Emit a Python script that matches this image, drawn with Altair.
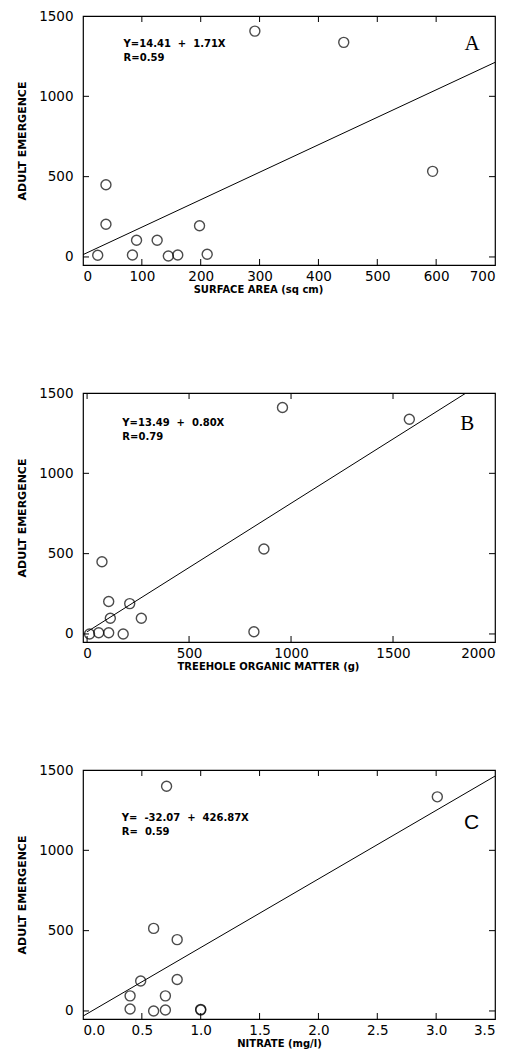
import altair as alt
import pandas as pd

# ---- data ----
A_x = [25, 39, 39, 84, 91, 126, 145, 161, 198, 211, 292, 443, 594]
A_y = [11, 450, 204, 12, 104, 104, 6, 12, 194, 17, 1406, 1336, 533]

B_x = [73, 106, 209, 114, 266, 12, 57, 106, 177, 818, 867, 958, 1580]
B_y = [450, 202, 189, 98, 98, 0, 8, 8, 0, 14, 529, 1410, 1337]

C_x = [0.71, 0.60, 0.80, 0.49, 0.80, 0.40, 0.70, 0.40, 0.60, 0.70, 1.00, 1.00, 3.01]
C_y = [1399, 514, 444, 187, 196, 94, 94, 12, 0, 6, 6, 10, 1333]

# regression lines (from printed equations)
A_fit_x = [0, 700]
A_fit_y = [14.41, 1211.41]
B_fit_x = [0, 1858]
B_fit_y = [13.49, 1500.0]
C_fit_x = [0, 3.5]
C_fit_y = [-32.07, 1462.0]

NB = "\u00a0"
A_eq = ["Y=14.41" + NB * 2 + "+" + NB * 2 + "1.71X", "R=0.59"]
B_eq = ["Y=13.49" + NB * 2 + "+" + NB * 2 + "0.80X", "R=0.79"]
C_eq = ["Y=" + NB * 2 + "-32.07" + NB * 2 + "+" + NB * 2 + "426.87X", "R=" + NB * 2 + "0.59"]

A_ticks = [100, 200, 300, 400, 500, 600]
A_labels = [0, 100, 200, 300, 400, 500, 600, 700]
B_ticks = [0, 500, 1000, 1500]
B_labels = [0, 500, 1000, 1500, 2000]
C_ticks = [0.5, 1.0, 1.5, 2.0, 2.5, 3.0]
C_labels = [0.0, 0.5, 1.0, 1.5, 2.0, 2.5, 3.0, 3.5]
Y_ticks = [0, 500, 1000]
Y_labels = [0, 500, 1000, 1500]

W = 412
H = 249
TK = 6
FONT = "DejaVu Sans"


def panel(xs, ys, xdom, xlabels, xfmt, xticks, xtitle, title_x,
          fx, fy, eq, eq_x, eq_y, letter, lx, ly, lfont):
    X = alt.X("x:Q",
              scale=alt.Scale(domain=xdom, nice=False, zero=False, padding=0),
              axis=alt.Axis(values=xlabels, format=xfmt, title=xtitle,
                            ticks=False, domain=False, grid=False,
                            labelFontSize=13.5, labelPadding=4,
                            titlePadding=2, titleFontSize=10,
                            titleFontWeight="bold", titleX=title_x,
                            labelFont=FONT, titleFont=FONT,
                            labelColor="black", titleColor="black"))
    Y = alt.Y("y:Q",
              scale=alt.Scale(domain=[-50, 1500], nice=False, zero=False, padding=0),
              axis=alt.Axis(values=Y_labels, format="d", title="ADULT EMERGENCE",
                            ticks=False, domain=False, grid=False,
                            labelFontSize=13.5, labelPadding=10,
                            titlePadding=11, titleFontSize=11,
                            titleFontWeight="bold",
                            labelFont=FONT, titleFont=FONT,
                            labelColor="black", titleColor="black"))

    pts = alt.Chart(pd.DataFrame({"x": xs, "y": ys})).mark_point(
        shape="circle", filled=False, color="black", size=100, strokeWidth=1.4
    ).encode(x=X, y=Y)

    line = alt.Chart(pd.DataFrame({"x": fx, "y": fy})).mark_line(
        color="black", strokeWidth=1, clip=True
    ).encode(x=X, y=Y)

    tdf = pd.DataFrame({"x": xticks})
    bot = alt.Chart(tdf).mark_rule(color="black", strokeWidth=1).encode(
        x=X, y=alt.value(H), y2=alt.value(H - TK))
    top = alt.Chart(tdf).mark_rule(color="black", strokeWidth=1).encode(
        x=X, y=alt.value(0), y2=alt.value(TK))
    ydf = pd.DataFrame({"y": Y_ticks})
    left = alt.Chart(ydf).mark_rule(color="black", strokeWidth=1).encode(
        y=Y, x=alt.value(0), x2=alt.value(TK))
    right = alt.Chart(ydf).mark_rule(color="black", strokeWidth=1).encode(
        y=Y, x=alt.value(W - TK), x2=alt.value(W))

    txt = alt.Chart(pd.DataFrame({"x": [eq_x, eq_x], "y": eq_y, "t": eq})).mark_text(
        align="left", baseline="middle", font=FONT, fontSize=10,
        fontWeight="bold", color="black"
    ).encode(x=X, y=Y, text="t:N")

    lab = alt.Chart(pd.DataFrame({"x": [lx], "y": [ly], "t": [letter]})).mark_text(
        align="center", baseline="middle", font=lfont, fontSize=21, color="black"
    ).encode(x=X, y=Y, text="t:N")

    return alt.layer(pts, line, bot, top, left, right, txt, lab).properties(
        width=W, height=H)


pA = panel(A_x, A_y, [0, 700], A_labels, "d", A_ticks, "SURFACE AREA (sq cm)", 175,
           A_fit_x, A_fit_y, A_eq, 69, [1325, 1238], "A", 661, 1325, "Liberation Serif")
pB = panel(B_x, B_y, [-20, 2000], B_labels, "d", B_ticks, "TREEHOLE ORGANIC MATTER (g)", 185,
           B_fit_x, B_fit_y, B_eq, 173, [1312, 1225], "B", 1864, 1306, "Liberation Serif")
pC = panel(C_x, C_y, [0, 3.5], C_labels, ".1f", C_ticks, "NITRATE (mg/l)", 196,
           C_fit_x, C_fit_y, C_eq, 0.33, [1200, 1112], "C", 3.30, 1169, "Liberation Sans")

chart = alt.vconcat(pA, pB, pC, spacing=89).configure_view(
    stroke="black", strokeWidth=1.2
).properties(padding={"left": 8, "top": 0, "right": 5, "bottom": 5})

chart.save("out.html", embed_options={"renderer": "svg", "actions": False})
